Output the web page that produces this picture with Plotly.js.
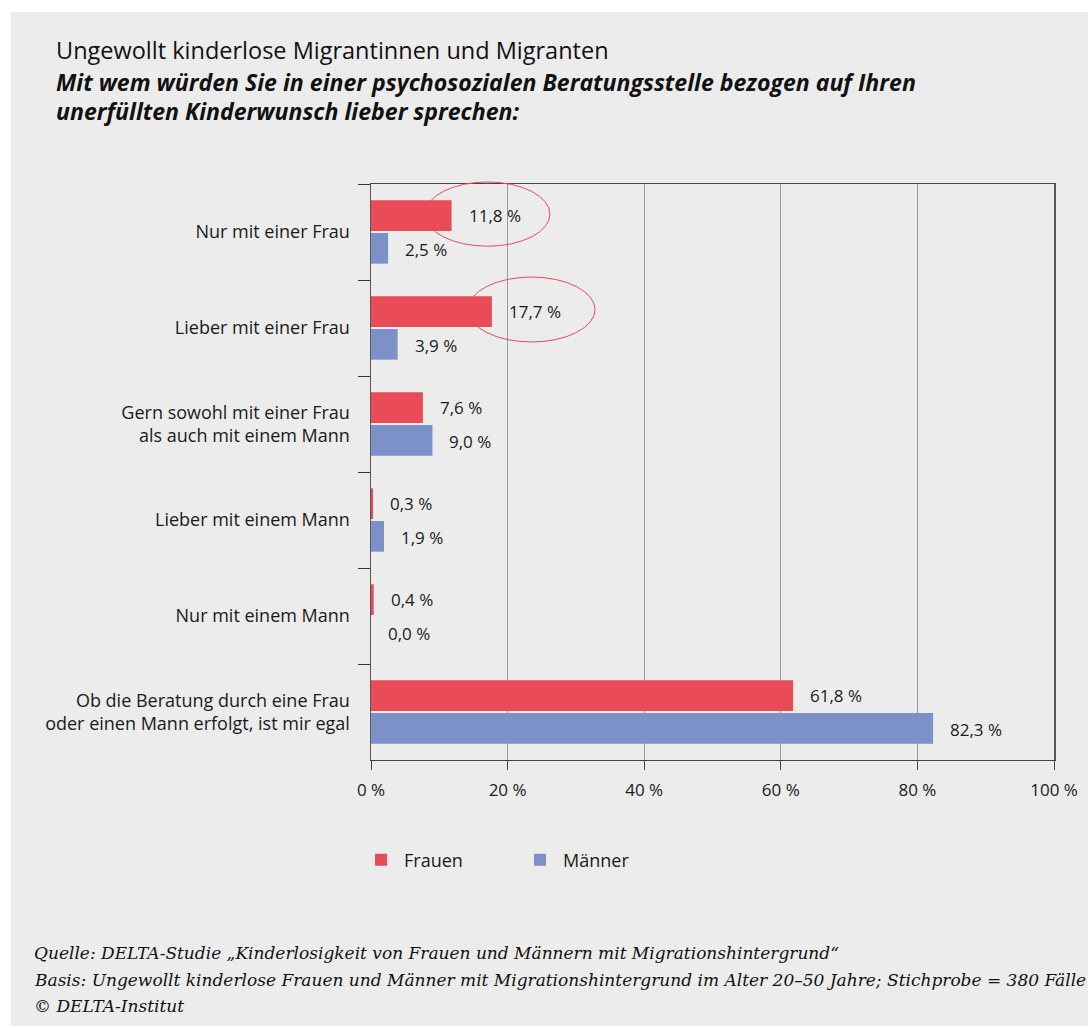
<!DOCTYPE html>
<html>
<head>
<meta charset="utf-8">
<script src="https://cdn.plot.ly/plotly-3.0.1.min.js"></script>
<style>
  html, body { margin: 0; padding: 0; background: #ffffff; }
  #chart { position: absolute; left: 11px; top: 12px; width: 1077px; height: 1014px; }
</style>
</head>
<body>
<div id="chart"></div>
<script>
// ---- data ----
const categories = [
  "Nur mit einer Frau",
  "Lieber mit einer Frau",
  "Gern sowohl mit einer Frau<br>als auch mit einem Mann",
  "Lieber mit einem Mann",
  "Nur mit einem Mann",
  "Ob die Beratung durch eine Frau<br>oder einen Mann erfolgt, ist mir egal"
];
const frauen = [11.8, 17.7, 7.6, 0.3, 0.4, 61.8];
const maenner = [2.5, 3.9, 9.0, 1.9, 0.0, 82.3];
const seriesNames = ["Frauen", "Männer"];
const xTickVals = [0, 20, 40, 60, 80, 100];
const xTickText = ["0 %", "20 %", "40 %", "60 %", "80 %", "100 %"];

const titleLines = [
  "Ungewollt kinderlose Migrantinnen und Migranten",
  "Mit wem würden Sie in einer psychosozialen Beratungsstelle bezogen auf Ihren",
  "unerfüllten Kinderwunsch lieber sprechen:"
];
const footerLines = [
  "Quelle: DELTA-Studie „Kinderlosigkeit von Frauen und Männern mit Migrationshintergrund“",
  "Basis: Ungewollt kinderlose Frauen und Männer mit Migrationshintergrund im Alter 20–50 Jahre; Stichprobe = 380 Fälle",
  "© DELTA-Institut"
];

// ---- style ----
const RED = "#e94b57";
const BLUE = "#7b91c8";
const SANS = "'Open Sans', 'Noto Sans', sans-serif";
const SERIF = "'DejaVu Serif', serif";
const TXT = "#1a1a1a";

function fmt(v) { return v.toFixed(1).replace(".", ",") + " %"; }

const traces = [
  { type: "bar", orientation: "h", name: seriesNames[0], y: categories, x: frauen,
    marker: { color: RED }, hoverinfo: "x+y" },
  { type: "bar", orientation: "h", name: seriesNames[1], y: categories, x: maenner,
    marker: { color: BLUE }, hoverinfo: "x+y" }
];

const annotations = [];
categories.forEach((c, i) => {
  annotations.push({ x: frauen[i], y: c, xref: "x", yref: "y", text: fmt(frauen[i]),
    showarrow: false, xanchor: "left", yanchor: "middle", xshift: 15, yshift: 17,
    font: { family: SANS, size: 17, color: TXT } });
  annotations.push({ x: maenner[i], y: c, xref: "x", yref: "y", text: fmt(maenner[i]),
    showarrow: false, xanchor: "left", yanchor: "middle", xshift: 15, yshift: -17,
    font: { family: SANS, size: 17, color: TXT } });
});

// title lines
const titleY = [68, 100, 129];
titleLines.forEach((t, i) => {
  annotations.push({ xref: "paper", yref: "paper", x: (54 - 371) / 683, y: (760 - titleY[i]) / 576,
    xanchor: "left", yanchor: "bottom", showarrow: false,
    text: i === 0 ? t : "<b><i>" + t + "</i></b>",
    font: { family: SANS, size: i === 0 ? 23.5 : 23.1, color: "#111" } });
});
// footer lines
const footY = [965, 992, 1018];
footerLines.forEach((t, i) => {
  annotations.push({ xref: "paper", yref: "paper", x: (32 - 371) / 683, y: (760 - footY[i]) / 576,
    xanchor: "left", yanchor: "bottom", showarrow: false,
    text: "<i>" + t + "</i>",
    font: { family: SERIF, size: 17, color: "#111" } });
});

// highlight ellipses around the circled Frauen values
const shapes = [
  { type: "circle", xref: "x", yref: "paper", x0: 7.9, x1: 26.2, y0: 0.892, y1: 1.0035,
    line: { color: RED, width: 1 } },
  { type: "circle", xref: "x", yref: "paper", x0: 14.2, x1: 32.8, y0: 0.7257, y1: 0.8385,
    line: { color: RED, width: 1 } }
];

const layout = {
  width: 1077, height: 1014,
  margin: { l: 360, r: 34, t: 172, b: 266 },
  paper_bgcolor: "#ececec",
  plot_bgcolor: "rgba(0,0,0,0)",
  separators: ", ",
  barmode: "group",
  bargap: 0.32,
  bargroupgap: 0.06,
  showlegend: true,
  legend: { orientation: "h", x: -0.019, xanchor: "left", y: -0.1736, yanchor: "middle",
    itemwidth: 36, entrywidth: 108,
    font: { family: SANS, size: 18, color: TXT }, bgcolor: "rgba(0,0,0,0)" },
  xaxis: {
    range: [0, 100], tickvals: xTickVals, ticktext: xTickText,
    showgrid: true, gridcolor: "#9a9a9a", gridwidth: 1, zeroline: false,
    showline: true, linecolor: "#444", linewidth: 1, mirror: true,
    ticks: "outside", ticklen: 9, tickcolor: "#444", ticklabelstandoff: 6,
    tickfont: { family: SANS, size: 17, color: TXT }, fixedrange: true
  },
  yaxis: {
    type: "category", autorange: "reversed",
    showline: true, linecolor: "#555", linewidth: 1.5, mirror: true,
    ticks: "outside", tickson: "boundaries", ticklen: 12, tickcolor: "#333",
    ticklabelstandoff: 16,
    showgrid: false,
    tickfont: { family: SANS, size: 18, color: TXT }, fixedrange: true
  },
  annotations: annotations,
  shapes: shapes
};

Plotly.newPlot("chart", traces, layout, { displayModeBar: false, staticPlot: true });
</script>
</body>
</html>
